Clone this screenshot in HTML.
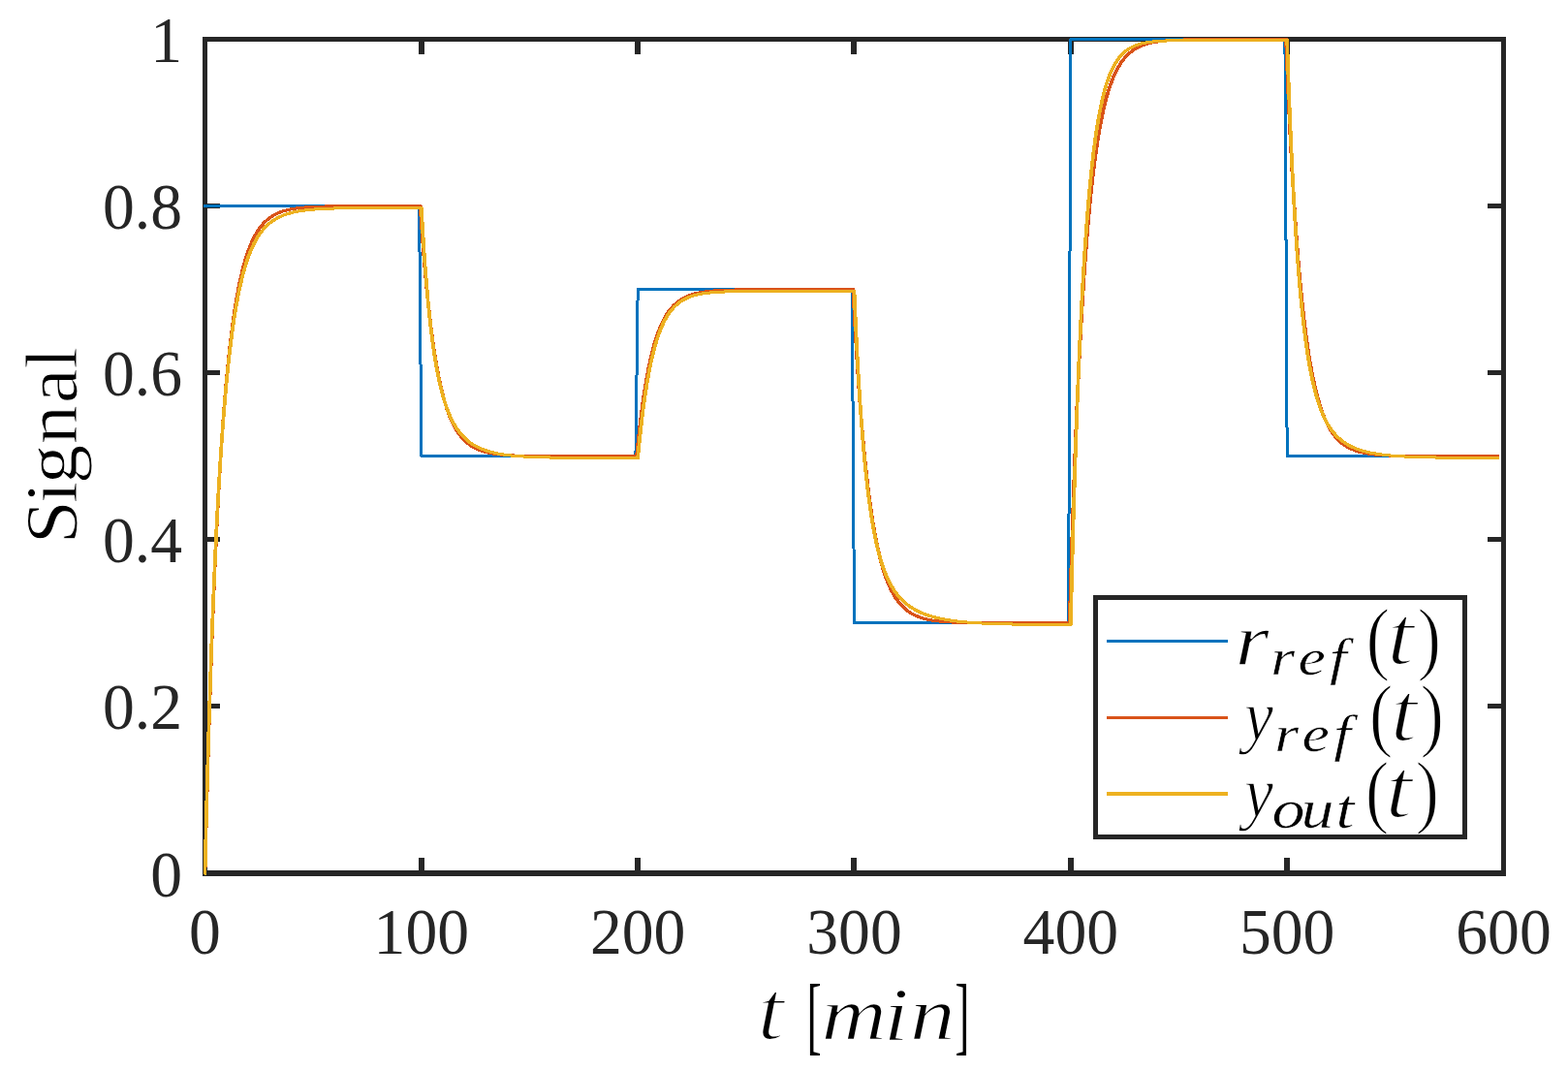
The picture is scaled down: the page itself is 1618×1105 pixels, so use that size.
<!DOCTYPE html>
<html lang="en"><head><meta charset="utf-8"><title>Signal tracking plot</title>
<style>
html,body{margin:0;padding:0;background:#fff;}
body{width:1618px;height:1105px;overflow:hidden;}
svg{display:block;}
.tk{font-family:"Liberation Serif","DejaVu Serif",serif;font-size:68px;fill:#262626;}
.lb{font-family:"Liberation Serif","DejaVu Serif",serif;fill:#000;}
.it{font-style:italic;}
</style></head><body>
<svg width="1618" height="1105" viewBox="0 0 1618 1105">
<rect x="0" y="0" width="1618" height="1105" fill="#fff"/>
<g id="axes" fill="#262626" shape-rendering="crispEdges"><rect x="209" y="38" width="1345" height="5"/><rect x="209" y="898" width="1345" height="6"/><rect x="209" y="38" width="5" height="866"/><rect x="1549" y="38" width="5" height="866"/><rect x="432" y="885" width="6" height="14"/><rect x="432" y="42" width="6" height="14"/><rect x="655" y="885" width="6" height="14"/><rect x="655" y="42" width="6" height="14"/><rect x="878" y="885" width="6" height="14"/><rect x="878" y="42" width="6" height="14"/><rect x="1102" y="885" width="6" height="14"/><rect x="1102" y="42" width="6" height="14"/><rect x="1325" y="885" width="6" height="14"/><rect x="1325" y="42" width="6" height="14"/><rect x="213" y="726" width="14" height="5"/><rect x="1535" y="726" width="15" height="5"/><rect x="213" y="554" width="14" height="5"/><rect x="1535" y="554" width="15" height="5"/><rect x="213" y="382" width="14" height="5"/><rect x="1535" y="382" width="15" height="5"/><rect x="213" y="210" width="14" height="5"/><rect x="1535" y="210" width="15" height="5"/></g>
<g id="curves" fill="none" stroke-width="3" stroke-linejoin="round" stroke-linecap="square" shape-rendering="crispEdges">
<path id="c-rref" stroke="#0072BD" d="M211.50,212.60 L432.60,212.60 L434.83,470.75 L655.93,470.75 L658.17,298.65 L879.27,298.65 L881.50,642.85 L1102.60,642.85 L1104.83,40.50 L1325.93,40.50 L1328.17,470.75 L1545.02,470.75"/>
<g transform="translate(-0.35,0)">
<path id="c-yref" stroke="#D95319" d="M211.50,901.00 L212.06,878.19 L212.62,856.14 L213.18,834.82 L213.73,814.20 L214.29,794.27 L214.85,775.00 L215.41,756.37 L215.97,738.35 L216.53,720.93 L217.08,704.09 L217.64,687.81 L218.20,672.06 L218.76,656.84 L219.32,642.12 L219.88,627.89 L220.43,614.13 L220.99,600.83 L221.55,587.97 L222.11,575.53 L222.67,563.51 L223.22,551.88 L223.78,540.64 L224.34,529.77 L224.90,519.26 L225.46,509.10 L226.02,499.28 L226.57,489.78 L227.13,480.60 L227.69,471.72 L228.25,463.13 L228.81,454.83 L229.37,446.81 L229.93,439.05 L230.48,431.54 L231.04,424.29 L231.60,417.28 L232.16,410.50 L232.72,403.94 L233.28,397.60 L233.83,391.47 L234.39,385.54 L234.95,379.81 L235.51,374.27 L236.07,368.92 L236.62,363.74 L237.18,358.73 L237.74,353.89 L238.30,349.21 L238.86,344.68 L239.42,340.31 L239.97,336.08 L240.53,331.98 L241.09,328.03 L241.65,324.20 L242.21,320.51 L242.77,316.93 L243.32,313.48 L243.88,310.13 L244.44,306.90 L245.00,303.78 L245.56,300.76 L246.12,297.84 L246.68,295.01 L247.23,292.28 L247.79,289.64 L248.35,287.09 L248.91,284.62 L249.47,282.23 L250.03,279.93 L250.58,277.70 L251.14,275.54 L251.70,273.46 L252.26,271.44 L252.82,269.49 L253.38,267.60 L253.93,265.78 L254.49,264.02 L255.05,262.32 L255.61,260.67 L256.17,259.08 L256.73,257.54 L257.28,256.05 L257.84,254.61 L258.40,253.22 L258.96,251.87 L259.52,250.57 L260.07,249.31 L260.63,248.10 L261.19,246.92 L261.75,245.78 L262.31,244.68 L262.87,243.62 L263.43,242.59 L263.98,241.60 L264.54,240.64 L265.10,239.71 L265.66,238.81 L266.22,237.94 L266.77,237.10 L267.33,236.29 L267.89,235.51 L268.45,234.75 L269.01,234.01 L269.57,233.30 L270.12,232.62 L270.68,231.95 L271.24,231.31 L271.80,230.69 L272.36,230.09 L272.92,229.51 L273.48,228.95 L274.03,228.41 L274.59,227.89 L275.15,227.38 L275.71,226.89 L276.27,226.42 L276.82,225.96 L277.38,225.52 L277.94,225.09 L278.50,224.68 L279.62,223.89 L280.73,223.15 L281.85,222.47 L282.97,221.82 L284.08,221.22 L285.20,220.66 L286.32,220.13 L287.43,219.64 L288.55,219.18 L289.67,218.76 L290.78,218.35 L292.46,217.80 L294.13,217.30 L295.81,216.85 L297.48,216.44 L299.72,215.96 L301.95,215.53 L304.74,215.08 L308.09,214.62 L312.00,214.20 L317.02,213.78 L324.28,213.36 L335.45,212.99 L346.62,212.80 L357.78,212.70 L368.95,212.65 L380.12,212.63 L391.28,212.61 L402.45,212.61 L413.62,212.60 L424.78,212.60 L433.72,212.60 L434.27,221.18 L434.83,229.47 L435.39,237.48 L435.95,245.23 L436.51,252.72 L437.07,259.97 L437.62,266.97 L438.18,273.74 L438.74,280.28 L439.30,286.61 L439.86,292.73 L440.42,298.64 L440.98,304.36 L441.53,309.89 L442.09,315.23 L442.65,320.40 L443.21,325.39 L443.77,330.22 L444.32,334.89 L444.88,339.40 L445.44,343.76 L446.00,347.98 L446.56,352.06 L447.12,356.00 L447.68,359.82 L448.23,363.50 L448.79,367.06 L449.35,370.51 L449.91,373.84 L450.47,377.06 L451.02,380.17 L451.58,383.18 L452.14,386.09 L452.70,388.90 L453.26,391.62 L453.82,394.25 L454.38,396.79 L454.93,399.25 L455.49,401.62 L456.05,403.92 L456.61,406.14 L457.17,408.28 L457.73,410.36 L458.28,412.37 L458.84,414.31 L459.40,416.18 L459.96,417.99 L460.52,419.75 L461.07,421.44 L461.63,423.08 L462.19,424.66 L462.75,426.19 L463.31,427.67 L463.87,429.10 L464.43,430.49 L464.98,431.82 L465.54,433.12 L466.10,434.37 L466.66,435.58 L467.22,436.74 L467.77,437.87 L468.33,438.97 L468.89,440.02 L469.45,441.04 L470.01,442.03 L470.57,442.98 L471.12,443.91 L471.68,444.80 L472.24,445.66 L472.80,446.49 L473.36,447.30 L473.92,448.08 L474.48,448.83 L475.03,449.56 L475.59,450.26 L476.15,450.94 L476.71,451.60 L477.27,452.24 L477.82,452.85 L478.38,453.45 L478.94,454.02 L479.50,454.58 L480.06,455.12 L480.62,455.63 L481.18,456.14 L481.73,456.62 L482.29,457.09 L482.85,457.55 L483.41,457.98 L483.97,458.41 L484.52,458.82 L485.64,459.60 L486.76,460.33 L487.88,461.01 L488.99,461.64 L490.11,462.24 L491.23,462.79 L492.34,463.31 L493.46,463.80 L494.57,464.25 L495.69,464.68 L497.37,465.26 L499.04,465.79 L500.72,466.27 L502.39,466.70 L504.62,467.21 L506.86,467.66 L509.65,468.14 L512.44,468.55 L515.79,468.95 L520.26,469.38 L526.40,469.80 L535.89,470.22 L547.06,470.48 L558.23,470.61 L569.39,470.68 L580.56,470.71 L591.73,470.73 L602.89,470.74 L614.06,470.75 L625.23,470.75 L636.39,470.75 L647.56,470.75 L657.05,470.75 L657.61,464.96 L658.17,459.36 L658.73,453.95 L659.28,448.72 L659.84,443.67 L660.40,438.78 L660.96,434.07 L661.52,429.51 L662.08,425.10 L662.63,420.84 L663.19,416.73 L663.75,412.75 L664.31,408.91 L664.87,405.20 L665.42,401.61 L665.98,398.15 L666.54,394.80 L667.10,391.56 L667.66,388.43 L668.22,385.41 L668.77,382.49 L669.33,379.67 L669.89,376.94 L670.45,374.30 L671.01,371.76 L671.57,369.29 L672.12,366.92 L672.68,364.62 L673.24,362.40 L673.80,360.25 L674.36,358.18 L674.92,356.17 L675.48,354.24 L676.03,352.36 L676.59,350.56 L677.15,348.81 L677.71,347.12 L678.27,345.49 L678.83,343.91 L679.38,342.39 L679.94,340.92 L680.50,339.49 L681.06,338.12 L681.62,336.79 L682.17,335.50 L682.73,334.26 L683.29,333.06 L683.85,331.91 L684.41,330.79 L684.97,329.70 L685.52,328.66 L686.08,327.65 L686.64,326.67 L687.20,325.73 L687.76,324.82 L688.32,323.94 L688.88,323.09 L689.43,322.26 L689.99,321.47 L690.55,320.70 L691.11,319.96 L691.67,319.24 L692.23,318.55 L692.78,317.88 L693.34,317.23 L693.90,316.60 L694.46,316.00 L695.02,315.42 L695.58,314.85 L696.13,314.31 L696.69,313.78 L697.25,313.27 L697.81,312.78 L698.37,312.30 L698.92,311.84 L699.48,311.40 L700.04,310.97 L700.60,310.55 L701.16,310.15 L702.27,309.39 L703.39,308.68 L704.51,308.02 L705.62,307.40 L706.74,306.82 L707.86,306.28 L708.98,305.77 L710.09,305.30 L711.21,304.86 L712.33,304.45 L714.00,303.88 L715.67,303.37 L717.35,302.91 L719.02,302.49 L721.26,302.00 L723.49,301.57 L726.28,301.11 L729.63,300.66 L733.54,300.23 L738.57,299.81 L745.83,299.39 L756.99,299.02 L768.16,298.84 L779.33,298.75 L790.49,298.70 L801.66,298.67 L812.83,298.66 L823.99,298.66 L835.16,298.65 L846.33,298.65 L857.49,298.65 L868.66,298.65 L879.83,298.65 L880.38,298.65 L880.94,309.79 L881.50,320.57 L882.06,331.00 L882.62,341.09 L883.17,350.85 L883.73,360.30 L884.29,369.44 L884.85,378.29 L885.41,386.85 L885.97,395.14 L886.52,403.15 L887.08,410.91 L887.64,418.41 L888.20,425.68 L888.76,432.70 L889.32,439.50 L889.88,446.08 L890.43,452.45 L890.99,458.61 L891.55,464.57 L892.11,470.34 L892.67,475.93 L893.23,481.33 L893.78,486.55 L894.34,491.61 L894.90,496.51 L895.46,501.24 L896.02,505.82 L896.58,510.26 L897.13,514.55 L897.69,518.70 L898.25,522.72 L898.81,526.61 L899.37,530.37 L899.92,534.01 L900.48,537.53 L901.04,540.94 L901.60,544.24 L902.16,547.43 L902.72,550.51 L903.27,553.50 L903.83,556.39 L904.39,559.19 L904.95,561.90 L905.51,564.52 L906.07,567.05 L906.62,569.51 L907.18,571.88 L907.74,574.18 L908.30,576.40 L908.86,578.55 L909.42,580.63 L909.98,582.64 L910.53,584.59 L911.09,586.48 L911.65,588.30 L912.21,590.07 L912.77,591.77 L913.33,593.43 L913.88,595.03 L914.44,596.57 L915.00,598.07 L915.56,599.52 L916.12,600.92 L916.67,602.28 L917.23,603.59 L917.79,604.86 L918.35,606.09 L918.91,607.28 L919.47,608.43 L920.02,609.55 L920.58,610.62 L921.14,611.67 L921.70,612.68 L922.26,613.65 L922.82,614.60 L923.38,615.51 L923.93,616.40 L924.49,617.25 L925.05,618.08 L925.61,618.88 L926.17,619.66 L926.73,620.41 L927.28,621.13 L927.84,621.84 L928.40,622.52 L928.96,623.17 L929.52,623.81 L930.08,624.43 L930.63,625.02 L931.19,625.60 L931.75,626.16 L932.31,626.70 L932.87,627.22 L933.42,627.73 L933.98,628.22 L934.54,628.69 L935.10,629.15 L935.66,629.59 L936.22,630.02 L936.77,630.44 L937.33,630.84 L938.45,631.60 L939.57,632.32 L940.68,632.99 L941.80,633.62 L942.92,634.20 L944.03,634.76 L945.15,635.27 L946.27,635.75 L947.38,636.21 L948.50,636.63 L950.17,637.21 L951.85,637.74 L953.52,638.22 L955.20,638.66 L957.43,639.17 L959.67,639.63 L962.46,640.12 L965.25,640.53 L968.60,640.95 L973.07,641.39 L978.65,641.80 L987.02,642.21 L998.19,642.52 L1009.36,642.68 L1020.52,642.76 L1031.69,642.80 L1042.86,642.83 L1054.03,642.84 L1065.19,642.84 L1076.36,642.85 L1087.53,642.85 L1098.69,642.85 L1103.72,642.85 L1104.28,622.84 L1104.83,603.49 L1105.39,584.79 L1105.95,566.71 L1106.51,549.23 L1107.07,532.33 L1107.62,515.99 L1108.18,500.20 L1108.74,484.93 L1109.30,470.16 L1109.86,455.89 L1110.42,442.09 L1110.97,428.75 L1111.53,415.85 L1112.09,403.38 L1112.65,391.33 L1113.21,379.67 L1113.77,368.41 L1114.33,357.51 L1114.88,346.98 L1115.44,336.80 L1116.00,326.96 L1116.56,317.44 L1117.12,308.24 L1117.67,299.35 L1118.23,290.75 L1118.79,282.44 L1119.35,274.40 L1119.91,266.63 L1120.47,259.12 L1121.03,251.86 L1121.58,244.83 L1122.14,238.05 L1122.70,231.48 L1123.26,225.14 L1123.82,219.01 L1124.38,213.08 L1124.93,207.34 L1125.49,201.80 L1126.05,196.44 L1126.61,191.26 L1127.17,186.25 L1127.72,181.41 L1128.28,176.73 L1128.84,172.21 L1129.40,167.83 L1129.96,163.60 L1130.52,159.51 L1131.08,155.56 L1131.63,151.74 L1132.19,148.04 L1132.75,144.47 L1133.31,141.01 L1133.87,137.67 L1134.42,134.45 L1134.98,131.33 L1135.54,128.31 L1136.10,125.39 L1136.66,122.57 L1137.22,119.85 L1137.78,117.21 L1138.33,114.66 L1138.89,112.20 L1139.45,109.82 L1140.01,107.51 L1140.57,105.29 L1141.12,103.13 L1141.68,101.05 L1142.24,99.04 L1142.80,97.10 L1143.36,95.22 L1143.92,93.40 L1144.47,91.64 L1145.03,89.94 L1145.59,88.30 L1146.15,86.71 L1146.71,85.18 L1147.27,83.69 L1147.83,82.26 L1148.38,80.87 L1148.94,79.53 L1149.50,78.23 L1150.06,76.98 L1150.62,75.77 L1151.17,74.60 L1151.73,73.46 L1152.29,72.37 L1152.85,71.31 L1153.41,70.29 L1153.97,69.30 L1154.53,68.34 L1155.08,67.42 L1155.64,66.52 L1156.20,65.66 L1156.76,64.82 L1157.32,64.01 L1157.88,63.23 L1158.43,62.48 L1158.99,61.75 L1159.55,61.04 L1160.11,60.36 L1160.67,59.70 L1161.22,59.06 L1161.78,58.45 L1162.34,57.85 L1162.90,57.27 L1163.46,56.72 L1164.02,56.18 L1164.58,55.66 L1165.13,55.15 L1165.69,54.67 L1166.25,54.20 L1166.81,53.74 L1167.37,53.30 L1167.92,52.88 L1168.48,52.46 L1169.60,51.68 L1170.72,50.95 L1171.83,50.27 L1172.95,49.63 L1174.07,49.03 L1175.18,48.48 L1176.30,47.96 L1177.42,47.47 L1178.53,47.01 L1179.65,46.59 L1181.33,46.00 L1183.00,45.47 L1184.67,44.99 L1186.35,44.56 L1188.58,44.05 L1190.82,43.60 L1193.61,43.12 L1196.40,42.71 L1199.75,42.30 L1204.22,41.88 L1210.36,41.45 L1219.85,41.03 L1231.02,40.77 L1242.18,40.64 L1253.35,40.57 L1264.52,40.54 L1275.68,40.52 L1286.85,40.51 L1298.02,40.50 L1309.18,40.50 L1320.35,40.50 L1327.05,40.50 L1327.61,54.70 L1328.17,68.43 L1328.72,81.71 L1329.28,94.54 L1329.84,106.96 L1330.40,118.96 L1330.96,130.57 L1331.52,141.80 L1332.08,152.65 L1332.63,163.15 L1333.19,173.30 L1333.75,183.12 L1334.31,192.61 L1334.87,201.79 L1335.42,210.66 L1335.98,219.25 L1336.54,227.55 L1337.10,235.57 L1337.66,243.33 L1338.22,250.84 L1338.78,258.10 L1339.33,265.11 L1339.89,271.90 L1340.45,278.46 L1341.01,284.81 L1341.57,290.94 L1342.12,296.88 L1342.68,302.62 L1343.24,308.16 L1343.80,313.53 L1344.36,318.72 L1344.92,323.73 L1345.47,328.59 L1346.03,333.28 L1346.59,337.81 L1347.15,342.20 L1347.71,346.44 L1348.27,350.55 L1348.83,354.51 L1349.38,358.35 L1349.94,362.06 L1350.50,365.64 L1351.06,369.11 L1351.62,372.47 L1352.17,375.71 L1352.73,378.85 L1353.29,381.88 L1353.85,384.81 L1354.41,387.65 L1354.97,390.39 L1355.53,393.04 L1356.08,395.61 L1356.64,398.09 L1357.20,400.48 L1357.76,402.80 L1358.32,405.05 L1358.88,407.21 L1359.43,409.31 L1359.99,411.34 L1360.55,413.30 L1361.11,415.19 L1361.67,417.03 L1362.22,418.80 L1362.78,420.51 L1363.34,422.17 L1363.90,423.78 L1364.46,425.33 L1365.02,426.82 L1365.58,428.27 L1366.13,429.68 L1366.69,431.03 L1367.25,432.34 L1367.81,433.61 L1368.37,434.84 L1368.92,436.02 L1369.48,437.17 L1370.04,438.27 L1370.60,439.35 L1371.16,440.38 L1371.72,441.39 L1372.28,442.35 L1372.83,443.29 L1373.39,444.20 L1373.95,445.07 L1374.51,445.92 L1375.07,446.74 L1375.62,447.53 L1376.18,448.30 L1376.74,449.04 L1377.30,449.76 L1377.86,450.45 L1378.42,451.12 L1378.97,451.77 L1379.53,452.39 L1380.09,453.00 L1380.65,453.58 L1381.21,454.15 L1381.77,454.70 L1382.33,455.23 L1382.88,455.74 L1383.44,456.24 L1384.00,456.72 L1384.56,457.18 L1385.12,457.63 L1385.67,458.06 L1386.23,458.48 L1386.79,458.88 L1387.91,459.65 L1389.03,460.37 L1390.14,461.05 L1391.26,461.68 L1392.38,462.27 L1393.49,462.82 L1394.61,463.33 L1395.72,463.81 L1396.84,464.26 L1397.96,464.68 L1399.63,465.27 L1401.31,465.79 L1402.98,466.27 L1404.66,466.70 L1406.89,467.20 L1409.12,467.65 L1411.92,468.13 L1414.71,468.53 L1418.06,468.94 L1422.53,469.36 L1428.67,469.79 L1438.16,470.21 L1449.33,470.47 L1460.49,470.61 L1471.66,470.68 L1482.83,470.71 L1493.99,470.73 L1505.16,470.74 L1516.33,470.75 L1527.49,470.75 L1538.66,470.75 L1544.80,470.75"/>
<path stroke="#D95319" transform="translate(0.7,0)" d="M211.50,901.00 L212.06,878.19 L212.62,856.14 L213.18,834.82 L213.73,814.20 L214.29,794.27 L214.85,775.00 L215.41,756.37 L215.97,738.35 L216.53,720.93 L217.08,704.09 L217.64,687.81 L218.20,672.06 L218.76,656.84 L219.32,642.12 L219.88,627.89 L220.43,614.13 L220.99,600.83 L221.55,587.97 L222.11,575.53 L222.67,563.51 L223.22,551.88 L223.78,540.64 L224.34,529.77 L224.90,519.26 L225.46,509.10 L226.02,499.28 L226.57,489.78 L227.13,480.60 L227.69,471.72 L228.25,463.13 L228.81,454.83 L229.37,446.81 L229.93,439.05 L230.48,431.54 L231.04,424.29 L231.60,417.28 L232.16,410.50 L232.72,403.94 L233.28,397.60 L233.83,391.47 L234.39,385.54 L234.95,379.81 L235.51,374.27 L236.07,368.92 L236.62,363.74 L237.18,358.73 L237.74,353.89 L238.30,349.21 L238.86,344.68 L239.42,340.31 L239.97,336.08 L240.53,331.98 L241.09,328.03 L241.65,324.20 L242.21,320.51 L242.77,316.93 L243.32,313.48 L243.88,310.13 L244.44,306.90 L245.00,303.78 L245.56,300.76 L246.12,297.84 L246.68,295.01 L247.23,292.28 L247.79,289.64 L248.35,287.09 L248.91,284.62 L249.47,282.23 L250.03,279.93 L250.58,277.70 L251.14,275.54 L251.70,273.46 L252.26,271.44 L252.82,269.49 L253.38,267.60 L253.93,265.78 L254.49,264.02 L255.05,262.32 L255.61,260.67 L256.17,259.08 L256.73,257.54 L257.28,256.05 L257.84,254.61 L258.40,253.22 L258.96,251.87 L259.52,250.57 L260.07,249.31 L260.63,248.10 L261.19,246.92 L261.75,245.78 L262.31,244.68 L262.87,243.62 L263.43,242.59 L263.98,241.60 L264.54,240.64 L265.10,239.71 L265.66,238.81 L266.22,237.94 L266.77,237.10 L267.33,236.29 L267.89,235.51 L268.45,234.75 L269.01,234.01 L269.57,233.30 L270.12,232.62 L270.68,231.95 L271.24,231.31 L271.80,230.69 L272.36,230.09 L272.92,229.51 L273.48,228.95 L274.03,228.41 L274.59,227.89 L275.15,227.38 L275.71,226.89 L276.27,226.42 L276.82,225.96 L277.38,225.52 L277.94,225.09 L278.50,224.68 L279.62,223.89 L280.73,223.15 L281.85,222.47 L282.97,221.82 L284.08,221.22 L285.20,220.66 L286.32,220.13 L287.43,219.64 L288.55,219.18 L289.67,218.76 L290.78,218.35 L292.46,217.80 L294.13,217.30 L295.81,216.85 L297.48,216.44 L299.72,215.96 L301.95,215.53 L304.74,215.08 L308.09,214.62 L312.00,214.20 L317.02,213.78 L324.28,213.36 L335.45,212.99 L346.62,212.80 L357.78,212.70 L368.95,212.65 L380.12,212.63 L391.28,212.61 L402.45,212.61 L413.62,212.60 L424.78,212.60 L433.72,212.60 L434.27,221.18 L434.83,229.47 L435.39,237.48 L435.95,245.23 L436.51,252.72 L437.07,259.97 L437.62,266.97 L438.18,273.74 L438.74,280.28 L439.30,286.61 L439.86,292.73 L440.42,298.64 L440.98,304.36 L441.53,309.89 L442.09,315.23 L442.65,320.40 L443.21,325.39 L443.77,330.22 L444.32,334.89 L444.88,339.40 L445.44,343.76 L446.00,347.98 L446.56,352.06 L447.12,356.00 L447.68,359.82 L448.23,363.50 L448.79,367.06 L449.35,370.51 L449.91,373.84 L450.47,377.06 L451.02,380.17 L451.58,383.18 L452.14,386.09 L452.70,388.90 L453.26,391.62 L453.82,394.25 L454.38,396.79 L454.93,399.25 L455.49,401.62 L456.05,403.92 L456.61,406.14 L457.17,408.28 L457.73,410.36 L458.28,412.37 L458.84,414.31 L459.40,416.18 L459.96,417.99 L460.52,419.75 L461.07,421.44 L461.63,423.08 L462.19,424.66 L462.75,426.19 L463.31,427.67 L463.87,429.10 L464.43,430.49 L464.98,431.82 L465.54,433.12 L466.10,434.37 L466.66,435.58 L467.22,436.74 L467.77,437.87 L468.33,438.97 L468.89,440.02 L469.45,441.04 L470.01,442.03 L470.57,442.98 L471.12,443.91 L471.68,444.80 L472.24,445.66 L472.80,446.49 L473.36,447.30 L473.92,448.08 L474.48,448.83 L475.03,449.56 L475.59,450.26 L476.15,450.94 L476.71,451.60 L477.27,452.24 L477.82,452.85 L478.38,453.45 L478.94,454.02 L479.50,454.58 L480.06,455.12 L480.62,455.63 L481.18,456.14 L481.73,456.62 L482.29,457.09 L482.85,457.55 L483.41,457.98 L483.97,458.41 L484.52,458.82 L485.64,459.60 L486.76,460.33 L487.88,461.01 L488.99,461.64 L490.11,462.24 L491.23,462.79 L492.34,463.31 L493.46,463.80 L494.57,464.25 L495.69,464.68 L497.37,465.26 L499.04,465.79 L500.72,466.27 L502.39,466.70 L504.62,467.21 L506.86,467.66 L509.65,468.14 L512.44,468.55 L515.79,468.95 L520.26,469.38 L526.40,469.80 L535.89,470.22 L547.06,470.48 L558.23,470.61 L569.39,470.68 L580.56,470.71 L591.73,470.73 L602.89,470.74 L614.06,470.75 L625.23,470.75 L636.39,470.75 L647.56,470.75 L657.05,470.75 L657.61,464.96 L658.17,459.36 L658.73,453.95 L659.28,448.72 L659.84,443.67 L660.40,438.78 L660.96,434.07 L661.52,429.51 L662.08,425.10 L662.63,420.84 L663.19,416.73 L663.75,412.75 L664.31,408.91 L664.87,405.20 L665.42,401.61 L665.98,398.15 L666.54,394.80 L667.10,391.56 L667.66,388.43 L668.22,385.41 L668.77,382.49 L669.33,379.67 L669.89,376.94 L670.45,374.30 L671.01,371.76 L671.57,369.29 L672.12,366.92 L672.68,364.62 L673.24,362.40 L673.80,360.25 L674.36,358.18 L674.92,356.17 L675.48,354.24 L676.03,352.36 L676.59,350.56 L677.15,348.81 L677.71,347.12 L678.27,345.49 L678.83,343.91 L679.38,342.39 L679.94,340.92 L680.50,339.49 L681.06,338.12 L681.62,336.79 L682.17,335.50 L682.73,334.26 L683.29,333.06 L683.85,331.91 L684.41,330.79 L684.97,329.70 L685.52,328.66 L686.08,327.65 L686.64,326.67 L687.20,325.73 L687.76,324.82 L688.32,323.94 L688.88,323.09 L689.43,322.26 L689.99,321.47 L690.55,320.70 L691.11,319.96 L691.67,319.24 L692.23,318.55 L692.78,317.88 L693.34,317.23 L693.90,316.60 L694.46,316.00 L695.02,315.42 L695.58,314.85 L696.13,314.31 L696.69,313.78 L697.25,313.27 L697.81,312.78 L698.37,312.30 L698.92,311.84 L699.48,311.40 L700.04,310.97 L700.60,310.55 L701.16,310.15 L702.27,309.39 L703.39,308.68 L704.51,308.02 L705.62,307.40 L706.74,306.82 L707.86,306.28 L708.98,305.77 L710.09,305.30 L711.21,304.86 L712.33,304.45 L714.00,303.88 L715.67,303.37 L717.35,302.91 L719.02,302.49 L721.26,302.00 L723.49,301.57 L726.28,301.11 L729.63,300.66 L733.54,300.23 L738.57,299.81 L745.83,299.39 L756.99,299.02 L768.16,298.84 L779.33,298.75 L790.49,298.70 L801.66,298.67 L812.83,298.66 L823.99,298.66 L835.16,298.65 L846.33,298.65 L857.49,298.65 L868.66,298.65 L879.83,298.65 L880.38,298.65 L880.94,309.79 L881.50,320.57 L882.06,331.00 L882.62,341.09 L883.17,350.85 L883.73,360.30 L884.29,369.44 L884.85,378.29 L885.41,386.85 L885.97,395.14 L886.52,403.15 L887.08,410.91 L887.64,418.41 L888.20,425.68 L888.76,432.70 L889.32,439.50 L889.88,446.08 L890.43,452.45 L890.99,458.61 L891.55,464.57 L892.11,470.34 L892.67,475.93 L893.23,481.33 L893.78,486.55 L894.34,491.61 L894.90,496.51 L895.46,501.24 L896.02,505.82 L896.58,510.26 L897.13,514.55 L897.69,518.70 L898.25,522.72 L898.81,526.61 L899.37,530.37 L899.92,534.01 L900.48,537.53 L901.04,540.94 L901.60,544.24 L902.16,547.43 L902.72,550.51 L903.27,553.50 L903.83,556.39 L904.39,559.19 L904.95,561.90 L905.51,564.52 L906.07,567.05 L906.62,569.51 L907.18,571.88 L907.74,574.18 L908.30,576.40 L908.86,578.55 L909.42,580.63 L909.98,582.64 L910.53,584.59 L911.09,586.48 L911.65,588.30 L912.21,590.07 L912.77,591.77 L913.33,593.43 L913.88,595.03 L914.44,596.57 L915.00,598.07 L915.56,599.52 L916.12,600.92 L916.67,602.28 L917.23,603.59 L917.79,604.86 L918.35,606.09 L918.91,607.28 L919.47,608.43 L920.02,609.55 L920.58,610.62 L921.14,611.67 L921.70,612.68 L922.26,613.65 L922.82,614.60 L923.38,615.51 L923.93,616.40 L924.49,617.25 L925.05,618.08 L925.61,618.88 L926.17,619.66 L926.73,620.41 L927.28,621.13 L927.84,621.84 L928.40,622.52 L928.96,623.17 L929.52,623.81 L930.08,624.43 L930.63,625.02 L931.19,625.60 L931.75,626.16 L932.31,626.70 L932.87,627.22 L933.42,627.73 L933.98,628.22 L934.54,628.69 L935.10,629.15 L935.66,629.59 L936.22,630.02 L936.77,630.44 L937.33,630.84 L938.45,631.60 L939.57,632.32 L940.68,632.99 L941.80,633.62 L942.92,634.20 L944.03,634.76 L945.15,635.27 L946.27,635.75 L947.38,636.21 L948.50,636.63 L950.17,637.21 L951.85,637.74 L953.52,638.22 L955.20,638.66 L957.43,639.17 L959.67,639.63 L962.46,640.12 L965.25,640.53 L968.60,640.95 L973.07,641.39 L978.65,641.80 L987.02,642.21 L998.19,642.52 L1009.36,642.68 L1020.52,642.76 L1031.69,642.80 L1042.86,642.83 L1054.03,642.84 L1065.19,642.84 L1076.36,642.85 L1087.53,642.85 L1098.69,642.85 L1103.72,642.85 L1104.28,622.84 L1104.83,603.49 L1105.39,584.79 L1105.95,566.71 L1106.51,549.23 L1107.07,532.33 L1107.62,515.99 L1108.18,500.20 L1108.74,484.93 L1109.30,470.16 L1109.86,455.89 L1110.42,442.09 L1110.97,428.75 L1111.53,415.85 L1112.09,403.38 L1112.65,391.33 L1113.21,379.67 L1113.77,368.41 L1114.33,357.51 L1114.88,346.98 L1115.44,336.80 L1116.00,326.96 L1116.56,317.44 L1117.12,308.24 L1117.67,299.35 L1118.23,290.75 L1118.79,282.44 L1119.35,274.40 L1119.91,266.63 L1120.47,259.12 L1121.03,251.86 L1121.58,244.83 L1122.14,238.05 L1122.70,231.48 L1123.26,225.14 L1123.82,219.01 L1124.38,213.08 L1124.93,207.34 L1125.49,201.80 L1126.05,196.44 L1126.61,191.26 L1127.17,186.25 L1127.72,181.41 L1128.28,176.73 L1128.84,172.21 L1129.40,167.83 L1129.96,163.60 L1130.52,159.51 L1131.08,155.56 L1131.63,151.74 L1132.19,148.04 L1132.75,144.47 L1133.31,141.01 L1133.87,137.67 L1134.42,134.45 L1134.98,131.33 L1135.54,128.31 L1136.10,125.39 L1136.66,122.57 L1137.22,119.85 L1137.78,117.21 L1138.33,114.66 L1138.89,112.20 L1139.45,109.82 L1140.01,107.51 L1140.57,105.29 L1141.12,103.13 L1141.68,101.05 L1142.24,99.04 L1142.80,97.10 L1143.36,95.22 L1143.92,93.40 L1144.47,91.64 L1145.03,89.94 L1145.59,88.30 L1146.15,86.71 L1146.71,85.18 L1147.27,83.69 L1147.83,82.26 L1148.38,80.87 L1148.94,79.53 L1149.50,78.23 L1150.06,76.98 L1150.62,75.77 L1151.17,74.60 L1151.73,73.46 L1152.29,72.37 L1152.85,71.31 L1153.41,70.29 L1153.97,69.30 L1154.53,68.34 L1155.08,67.42 L1155.64,66.52 L1156.20,65.66 L1156.76,64.82 L1157.32,64.01 L1157.88,63.23 L1158.43,62.48 L1158.99,61.75 L1159.55,61.04 L1160.11,60.36 L1160.67,59.70 L1161.22,59.06 L1161.78,58.45 L1162.34,57.85 L1162.90,57.27 L1163.46,56.72 L1164.02,56.18 L1164.58,55.66 L1165.13,55.15 L1165.69,54.67 L1166.25,54.20 L1166.81,53.74 L1167.37,53.30 L1167.92,52.88 L1168.48,52.46 L1169.60,51.68 L1170.72,50.95 L1171.83,50.27 L1172.95,49.63 L1174.07,49.03 L1175.18,48.48 L1176.30,47.96 L1177.42,47.47 L1178.53,47.01 L1179.65,46.59 L1181.33,46.00 L1183.00,45.47 L1184.67,44.99 L1186.35,44.56 L1188.58,44.05 L1190.82,43.60 L1193.61,43.12 L1196.40,42.71 L1199.75,42.30 L1204.22,41.88 L1210.36,41.45 L1219.85,41.03 L1231.02,40.77 L1242.18,40.64 L1253.35,40.57 L1264.52,40.54 L1275.68,40.52 L1286.85,40.51 L1298.02,40.50 L1309.18,40.50 L1320.35,40.50 L1327.05,40.50 L1327.61,54.70 L1328.17,68.43 L1328.72,81.71 L1329.28,94.54 L1329.84,106.96 L1330.40,118.96 L1330.96,130.57 L1331.52,141.80 L1332.08,152.65 L1332.63,163.15 L1333.19,173.30 L1333.75,183.12 L1334.31,192.61 L1334.87,201.79 L1335.42,210.66 L1335.98,219.25 L1336.54,227.55 L1337.10,235.57 L1337.66,243.33 L1338.22,250.84 L1338.78,258.10 L1339.33,265.11 L1339.89,271.90 L1340.45,278.46 L1341.01,284.81 L1341.57,290.94 L1342.12,296.88 L1342.68,302.62 L1343.24,308.16 L1343.80,313.53 L1344.36,318.72 L1344.92,323.73 L1345.47,328.59 L1346.03,333.28 L1346.59,337.81 L1347.15,342.20 L1347.71,346.44 L1348.27,350.55 L1348.83,354.51 L1349.38,358.35 L1349.94,362.06 L1350.50,365.64 L1351.06,369.11 L1351.62,372.47 L1352.17,375.71 L1352.73,378.85 L1353.29,381.88 L1353.85,384.81 L1354.41,387.65 L1354.97,390.39 L1355.53,393.04 L1356.08,395.61 L1356.64,398.09 L1357.20,400.48 L1357.76,402.80 L1358.32,405.05 L1358.88,407.21 L1359.43,409.31 L1359.99,411.34 L1360.55,413.30 L1361.11,415.19 L1361.67,417.03 L1362.22,418.80 L1362.78,420.51 L1363.34,422.17 L1363.90,423.78 L1364.46,425.33 L1365.02,426.82 L1365.58,428.27 L1366.13,429.68 L1366.69,431.03 L1367.25,432.34 L1367.81,433.61 L1368.37,434.84 L1368.92,436.02 L1369.48,437.17 L1370.04,438.27 L1370.60,439.35 L1371.16,440.38 L1371.72,441.39 L1372.28,442.35 L1372.83,443.29 L1373.39,444.20 L1373.95,445.07 L1374.51,445.92 L1375.07,446.74 L1375.62,447.53 L1376.18,448.30 L1376.74,449.04 L1377.30,449.76 L1377.86,450.45 L1378.42,451.12 L1378.97,451.77 L1379.53,452.39 L1380.09,453.00 L1380.65,453.58 L1381.21,454.15 L1381.77,454.70 L1382.33,455.23 L1382.88,455.74 L1383.44,456.24 L1384.00,456.72 L1384.56,457.18 L1385.12,457.63 L1385.67,458.06 L1386.23,458.48 L1386.79,458.88 L1387.91,459.65 L1389.03,460.37 L1390.14,461.05 L1391.26,461.68 L1392.38,462.27 L1393.49,462.82 L1394.61,463.33 L1395.72,463.81 L1396.84,464.26 L1397.96,464.68 L1399.63,465.27 L1401.31,465.79 L1402.98,466.27 L1404.66,466.70 L1406.89,467.20 L1409.12,467.65 L1411.92,468.13 L1414.71,468.53 L1418.06,468.94 L1422.53,469.36 L1428.67,469.79 L1438.16,470.21 L1449.33,470.47 L1460.49,470.61 L1471.66,470.68 L1482.83,470.71 L1493.99,470.73 L1505.16,470.74 L1516.33,470.75 L1527.49,470.75 L1538.66,470.75 L1544.80,470.75"/>
<path id="c-yout" stroke="#EDB120" d="M211.50,901.00 L212.06,877.61 L212.62,855.04 L213.18,833.28 L213.73,812.28 L214.29,792.03 L214.85,772.49 L215.41,753.64 L215.97,735.46 L216.53,717.91 L217.08,700.99 L217.64,684.65 L218.20,668.89 L218.76,653.68 L219.32,639.00 L219.88,624.84 L220.43,611.16 L220.99,597.97 L221.55,585.23 L222.11,572.94 L222.67,561.07 L223.22,549.61 L223.78,538.55 L224.34,527.87 L224.90,517.56 L225.46,507.61 L226.02,498.00 L226.57,488.72 L227.13,479.75 L227.69,471.10 L228.25,462.74 L228.81,454.66 L229.37,446.86 L229.93,439.33 L230.48,432.05 L231.04,425.02 L231.60,418.23 L232.16,411.67 L232.72,405.33 L233.28,399.20 L233.83,393.28 L234.39,387.56 L234.95,382.03 L235.51,376.69 L236.07,371.53 L236.62,366.54 L237.18,361.71 L237.74,357.05 L238.30,352.54 L238.86,348.19 L239.42,343.97 L239.97,339.90 L240.53,335.96 L241.09,332.15 L241.65,328.47 L242.21,324.91 L242.77,321.46 L243.32,318.13 L243.88,314.91 L244.44,311.79 L245.00,308.77 L245.56,305.86 L246.12,303.04 L246.68,300.31 L247.23,297.66 L247.79,295.11 L248.35,292.63 L248.91,290.24 L249.47,287.92 L250.03,285.68 L250.58,283.51 L251.14,281.41 L251.70,279.38 L252.26,277.41 L252.82,275.51 L253.38,273.66 L253.93,271.87 L254.49,270.14 L255.05,268.47 L255.61,266.85 L256.17,265.28 L256.73,263.76 L257.28,262.28 L257.84,260.86 L258.40,259.48 L258.96,258.14 L259.52,256.84 L260.07,255.58 L260.63,254.37 L261.19,253.19 L261.75,252.04 L262.31,250.94 L262.87,249.86 L263.43,248.82 L263.98,247.81 L264.54,246.84 L265.10,245.89 L265.66,244.97 L266.22,244.08 L266.77,243.22 L267.33,242.38 L267.89,241.57 L268.45,240.79 L269.01,240.02 L269.57,239.29 L270.12,238.57 L270.68,237.87 L271.24,237.20 L271.80,236.54 L272.36,235.91 L272.92,235.30 L273.48,234.70 L274.03,234.12 L274.59,233.56 L275.15,233.01 L275.71,232.48 L276.27,231.97 L276.82,231.47 L277.38,230.99 L277.94,230.52 L278.50,230.07 L279.06,229.62 L279.62,229.19 L280.18,228.78 L280.73,228.37 L281.85,227.60 L282.97,226.87 L284.08,226.19 L285.20,225.54 L286.32,224.93 L287.43,224.35 L288.55,223.81 L289.67,223.30 L290.78,222.81 L291.90,222.36 L293.02,221.93 L294.13,221.52 L295.81,220.95 L297.48,220.43 L299.16,219.95 L300.83,219.51 L302.51,219.10 L304.74,218.61 L306.98,218.18 L309.77,217.69 L312.56,217.27 L315.91,216.84 L319.82,216.41 L324.84,215.97 L330.98,215.56 L339.92,215.14 L351.08,214.81 L362.25,214.62 L373.42,214.50 L384.58,214.43 L395.75,214.39 L406.92,214.36 L418.08,214.34 L429.25,214.34 L434.83,214.33 L435.39,224.33 L435.95,233.89 L436.51,243.02 L437.07,251.75 L437.62,260.10 L438.18,268.08 L438.74,275.72 L439.30,283.02 L439.86,290.01 L440.42,296.70 L440.98,303.11 L441.53,309.24 L442.09,315.11 L442.65,320.74 L443.21,326.13 L443.77,331.30 L444.32,336.25 L444.88,341.00 L445.44,345.56 L446.00,349.93 L446.56,354.12 L447.12,358.15 L447.68,362.01 L448.23,365.72 L448.79,369.28 L449.35,372.70 L449.91,375.99 L450.47,379.15 L451.02,382.19 L451.58,385.11 L452.14,387.93 L452.70,390.63 L453.26,393.23 L453.82,395.74 L454.38,398.15 L454.93,400.47 L455.49,402.71 L456.05,404.86 L456.61,406.94 L457.17,408.94 L457.73,410.87 L458.28,412.73 L458.84,414.52 L459.40,416.26 L459.96,417.93 L460.52,419.54 L461.07,421.10 L461.63,422.60 L462.19,424.05 L462.75,425.46 L463.31,426.81 L463.87,428.12 L464.43,429.39 L464.98,430.62 L465.54,431.80 L466.10,432.95 L466.66,434.06 L467.22,435.13 L467.77,436.17 L468.33,437.17 L468.89,438.15 L469.45,439.09 L470.01,440.00 L470.57,440.89 L471.12,441.75 L471.68,442.58 L472.24,443.38 L472.80,444.16 L473.36,444.92 L473.92,445.66 L474.48,446.37 L475.03,447.06 L475.59,447.73 L476.15,448.38 L476.71,449.01 L477.27,449.63 L477.82,450.22 L478.38,450.80 L478.94,451.36 L479.50,451.91 L480.06,452.44 L480.62,452.95 L481.18,453.45 L481.73,453.94 L482.29,454.41 L482.85,454.87 L483.41,455.32 L483.97,455.76 L484.52,456.18 L485.08,456.59 L486.20,457.38 L487.32,458.12 L488.43,458.83 L489.55,459.50 L490.67,460.14 L491.78,460.74 L492.90,461.31 L494.02,461.85 L495.13,462.36 L496.25,462.85 L497.37,463.31 L498.48,463.75 L499.60,464.17 L501.27,464.76 L502.95,465.30 L504.62,465.80 L506.30,466.27 L507.98,466.71 L509.65,467.11 L511.88,467.60 L514.12,468.05 L516.35,468.45 L519.14,468.91 L521.93,469.31 L525.28,469.73 L529.19,470.15 L533.66,470.55 L539.24,470.96 L546.50,471.36 L557.11,471.76 L568.27,472.03 L579.44,472.20 L590.61,472.30 L601.77,472.36 L612.94,472.40 L624.11,472.43 L635.27,472.45 L646.44,472.45 L657.61,472.46 L658.17,472.46 L658.73,466.55 L659.28,460.84 L659.84,455.32 L660.40,450.00 L660.96,444.86 L661.52,439.89 L662.08,435.10 L662.63,430.47 L663.19,426.00 L663.75,421.68 L664.31,417.51 L664.87,413.49 L665.42,409.60 L665.98,405.85 L666.54,402.23 L667.10,398.73 L667.66,395.35 L668.22,392.08 L668.77,388.93 L669.33,385.89 L669.89,382.95 L670.45,380.11 L671.01,377.37 L671.57,374.73 L672.12,372.17 L672.68,369.70 L673.24,367.32 L673.80,365.02 L674.36,362.80 L674.92,360.66 L675.48,358.58 L676.03,356.58 L676.59,354.65 L677.15,352.79 L677.71,350.99 L678.27,349.25 L678.83,347.57 L679.38,345.95 L679.94,344.38 L680.50,342.87 L681.06,341.41 L681.62,340.00 L682.17,338.64 L682.73,337.32 L683.29,336.05 L683.85,334.83 L684.41,333.64 L684.97,332.50 L685.52,331.39 L686.08,330.33 L686.64,329.30 L687.20,328.30 L687.76,327.34 L688.32,326.42 L688.88,325.52 L689.43,324.66 L689.99,323.82 L690.55,323.02 L691.11,322.24 L691.67,321.49 L692.23,320.76 L692.78,320.06 L693.34,319.39 L693.90,318.73 L694.46,318.10 L695.02,317.49 L695.58,316.90 L696.13,316.34 L696.69,315.79 L697.25,315.26 L697.81,314.75 L698.37,314.25 L698.92,313.78 L699.48,313.31 L700.04,312.87 L700.60,312.44 L701.16,312.03 L701.72,311.63 L702.83,310.87 L703.95,310.16 L705.07,309.50 L706.18,308.88 L707.30,308.30 L708.42,307.77 L709.53,307.27 L710.65,306.80 L711.77,306.37 L712.88,305.96 L714.56,305.41 L716.23,304.91 L717.91,304.45 L719.58,304.05 L721.82,303.57 L724.05,303.15 L726.84,302.70 L730.19,302.26 L734.10,301.85 L739.68,301.42 L747.50,301.01 L758.67,300.69 L769.83,300.53 L781.00,300.45 L792.17,300.41 L803.33,300.39 L814.50,300.38 L825.67,300.38 L836.83,300.37 L848.00,300.37 L859.17,300.37 L870.33,300.37 L881.50,300.37 L882.06,313.51 L882.62,326.09 L883.17,338.12 L883.73,349.63 L884.29,360.65 L884.85,371.20 L885.41,381.30 L885.97,390.96 L886.52,400.22 L887.08,409.09 L887.64,417.58 L888.20,425.72 L888.76,433.51 L889.32,440.98 L889.88,448.15 L890.43,455.01 L890.99,461.59 L891.55,467.90 L892.11,473.96 L892.67,479.76 L893.23,485.33 L893.78,490.68 L894.34,495.81 L894.90,500.74 L895.46,505.47 L896.02,510.01 L896.58,514.37 L897.13,518.56 L897.69,522.59 L898.25,526.46 L898.81,530.18 L899.37,533.76 L899.92,537.20 L900.48,540.51 L901.04,543.69 L901.60,546.76 L902.16,549.70 L902.72,552.54 L903.27,555.28 L903.83,557.91 L904.39,560.44 L904.95,562.89 L905.51,565.24 L906.07,567.51 L906.62,569.70 L907.18,571.81 L907.74,573.85 L908.30,575.82 L908.86,577.71 L909.42,579.54 L909.98,581.31 L910.53,583.02 L911.09,584.67 L911.65,586.26 L912.21,587.80 L912.77,589.29 L913.33,590.73 L913.88,592.12 L914.44,593.47 L915.00,594.77 L915.56,596.03 L916.12,597.26 L916.67,598.44 L917.23,599.58 L917.79,600.69 L918.35,601.77 L918.91,602.81 L919.47,603.82 L920.02,604.80 L920.58,605.75 L921.14,606.68 L921.70,607.57 L922.26,608.44 L922.82,609.28 L923.38,610.10 L923.93,610.90 L924.49,611.67 L925.05,612.42 L925.61,613.15 L926.17,613.86 L926.73,614.55 L927.28,615.22 L927.84,615.87 L928.40,616.50 L928.96,617.12 L929.52,617.72 L930.08,618.31 L930.63,618.88 L931.19,619.43 L931.75,619.97 L932.31,620.50 L932.87,621.01 L933.42,621.51 L933.98,622.00 L934.54,622.47 L935.10,622.93 L935.66,623.38 L936.22,623.83 L936.77,624.25 L937.33,624.67 L937.89,625.08 L939.01,625.87 L940.12,626.62 L941.24,627.34 L942.36,628.02 L943.48,628.68 L944.59,629.30 L945.71,629.90 L946.83,630.47 L947.94,631.01 L949.06,631.54 L950.17,632.03 L951.29,632.51 L952.41,632.97 L953.52,633.41 L954.64,633.83 L955.76,634.24 L957.43,634.81 L959.11,635.35 L960.78,635.86 L962.46,636.34 L964.13,636.79 L965.81,637.22 L967.48,637.62 L969.72,638.12 L971.95,638.58 L974.18,639.01 L976.98,639.50 L979.77,639.94 L982.56,640.35 L985.91,640.79 L989.82,641.24 L994.28,641.70 L999.31,642.13 L1004.89,642.54 L1012.15,642.97 L1021.08,643.37 L1032.25,643.74 L1043.42,643.99 L1054.58,644.17 L1065.75,644.29 L1076.92,644.37 L1088.08,644.43 L1099.25,644.48 L1104.83,644.49 L1105.39,621.39 L1105.95,599.17 L1106.51,577.80 L1107.07,557.25 L1107.62,537.48 L1108.18,518.48 L1108.74,500.20 L1109.30,482.62 L1109.86,465.72 L1110.42,449.46 L1110.97,433.83 L1111.53,418.79 L1112.09,404.33 L1112.65,390.43 L1113.21,377.05 L1113.77,364.19 L1114.33,351.83 L1114.88,339.93 L1115.44,328.49 L1116.00,317.49 L1116.56,306.92 L1117.12,296.74 L1117.67,286.96 L1118.23,277.55 L1118.79,268.50 L1119.35,259.80 L1119.91,251.43 L1120.47,243.38 L1121.03,235.64 L1121.58,228.20 L1122.14,221.04 L1122.70,214.16 L1123.26,207.54 L1123.82,201.17 L1124.38,195.05 L1124.93,189.16 L1125.49,183.50 L1126.05,178.06 L1126.61,172.82 L1127.17,167.78 L1127.72,162.94 L1128.28,158.28 L1128.84,153.80 L1129.40,149.50 L1129.96,145.35 L1130.52,141.37 L1131.08,137.54 L1131.63,133.85 L1132.19,130.31 L1132.75,126.90 L1133.31,123.63 L1133.87,120.47 L1134.42,117.44 L1134.98,114.53 L1135.54,111.73 L1136.10,109.03 L1136.66,106.44 L1137.22,103.94 L1137.78,101.55 L1138.33,99.24 L1138.89,97.02 L1139.45,94.89 L1140.01,92.84 L1140.57,90.87 L1141.12,88.97 L1141.68,87.15 L1142.24,85.39 L1142.80,83.71 L1143.36,82.08 L1143.92,80.52 L1144.47,79.02 L1145.03,77.58 L1145.59,76.19 L1146.15,74.86 L1146.71,73.58 L1147.27,72.34 L1147.83,71.15 L1148.38,70.01 L1148.94,68.92 L1149.50,67.86 L1150.06,66.85 L1150.62,65.87 L1151.17,64.93 L1151.73,64.03 L1152.29,63.16 L1152.85,62.32 L1153.41,61.52 L1153.97,60.75 L1154.53,60.01 L1155.08,59.29 L1155.64,58.60 L1156.20,57.94 L1156.76,57.31 L1157.32,56.70 L1157.88,56.11 L1158.43,55.54 L1158.99,55.00 L1159.55,54.48 L1160.11,53.98 L1160.67,53.49 L1161.22,53.03 L1161.78,52.58 L1162.34,52.15 L1162.90,51.74 L1164.02,50.96 L1165.13,50.24 L1166.25,49.57 L1167.37,48.95 L1168.48,48.38 L1169.60,47.85 L1170.72,47.37 L1171.83,46.92 L1172.95,46.50 L1174.62,45.93 L1176.30,45.42 L1177.97,44.97 L1180.21,44.45 L1182.44,44.00 L1185.23,43.54 L1188.58,43.08 L1192.49,42.67 L1198.08,42.25 L1207.01,41.83 L1218.17,41.58 L1229.34,41.46 L1240.51,41.41 L1251.67,41.38 L1262.84,41.37 L1274.01,41.36 L1285.17,41.36 L1296.34,41.36 L1307.51,41.36 L1318.67,41.36 L1328.17,41.36 L1328.72,58.14 L1329.28,74.22 L1329.84,89.61 L1330.40,104.35 L1330.96,118.47 L1331.52,132.00 L1332.08,144.97 L1332.63,157.39 L1333.19,169.29 L1333.75,180.70 L1334.31,191.63 L1334.87,202.11 L1335.42,212.16 L1335.98,221.79 L1336.54,231.03 L1337.10,239.89 L1337.66,248.38 L1338.22,256.53 L1338.78,264.35 L1339.33,271.85 L1339.89,279.05 L1340.45,285.96 L1341.01,292.58 L1341.57,298.95 L1342.12,305.06 L1342.68,310.92 L1343.24,316.56 L1343.80,321.97 L1344.36,327.16 L1344.92,332.15 L1345.47,336.95 L1346.03,341.56 L1346.59,345.99 L1347.15,350.25 L1347.71,354.34 L1348.27,358.27 L1348.83,362.06 L1349.38,365.70 L1349.94,369.20 L1350.50,372.57 L1351.06,375.81 L1351.62,378.93 L1352.17,381.93 L1352.73,384.82 L1353.29,387.61 L1353.85,390.29 L1354.41,392.87 L1354.97,395.36 L1355.53,397.75 L1356.08,400.06 L1356.64,402.29 L1357.20,404.43 L1357.76,406.50 L1358.32,408.49 L1358.88,410.42 L1359.43,412.27 L1359.99,414.06 L1360.55,415.79 L1361.11,417.46 L1361.67,419.07 L1362.22,420.62 L1362.78,422.12 L1363.34,423.57 L1363.90,424.97 L1364.46,426.32 L1365.02,427.63 L1365.58,428.89 L1366.13,430.12 L1366.69,431.30 L1367.25,432.44 L1367.81,433.54 L1368.37,434.61 L1368.92,435.64 L1369.48,436.65 L1370.04,437.61 L1370.60,438.55 L1371.16,439.46 L1371.72,440.34 L1372.28,441.19 L1372.83,442.01 L1373.39,442.81 L1373.95,443.59 L1374.51,444.34 L1375.07,445.07 L1375.62,445.77 L1376.18,446.46 L1376.74,447.12 L1377.30,447.76 L1377.86,448.39 L1378.42,448.99 L1378.97,449.58 L1379.53,450.15 L1380.09,450.71 L1380.65,451.25 L1381.21,451.77 L1381.77,452.28 L1382.33,452.77 L1382.88,453.25 L1383.44,453.72 L1384.00,454.17 L1384.56,454.61 L1385.12,455.04 L1385.67,455.46 L1386.23,455.86 L1387.35,456.64 L1388.47,457.37 L1389.58,458.07 L1390.70,458.73 L1391.82,459.36 L1392.93,459.95 L1394.05,460.52 L1395.17,461.05 L1396.28,461.56 L1397.40,462.04 L1398.52,462.50 L1399.63,462.94 L1400.75,463.36 L1402.42,463.95 L1404.10,464.49 L1405.78,465.00 L1407.45,465.47 L1409.12,465.91 L1410.80,466.33 L1413.03,466.83 L1415.27,467.29 L1417.50,467.72 L1420.29,468.19 L1423.08,468.62 L1426.43,469.07 L1430.34,469.54 L1434.81,469.98 L1439.83,470.41 L1445.97,470.82 L1453.79,471.23 L1464.96,471.65 L1476.12,471.92 L1487.29,472.11 L1498.46,472.23 L1509.62,472.31 L1520.79,472.36 L1531.96,472.40 L1543.12,472.42 L1544.80,472.43"/>
<path stroke="#EDB120" transform="translate(0.7,0)" d="M211.50,901.00 L212.06,877.61 L212.62,855.04 L213.18,833.28 L213.73,812.28 L214.29,792.03 L214.85,772.49 L215.41,753.64 L215.97,735.46 L216.53,717.91 L217.08,700.99 L217.64,684.65 L218.20,668.89 L218.76,653.68 L219.32,639.00 L219.88,624.84 L220.43,611.16 L220.99,597.97 L221.55,585.23 L222.11,572.94 L222.67,561.07 L223.22,549.61 L223.78,538.55 L224.34,527.87 L224.90,517.56 L225.46,507.61 L226.02,498.00 L226.57,488.72 L227.13,479.75 L227.69,471.10 L228.25,462.74 L228.81,454.66 L229.37,446.86 L229.93,439.33 L230.48,432.05 L231.04,425.02 L231.60,418.23 L232.16,411.67 L232.72,405.33 L233.28,399.20 L233.83,393.28 L234.39,387.56 L234.95,382.03 L235.51,376.69 L236.07,371.53 L236.62,366.54 L237.18,361.71 L237.74,357.05 L238.30,352.54 L238.86,348.19 L239.42,343.97 L239.97,339.90 L240.53,335.96 L241.09,332.15 L241.65,328.47 L242.21,324.91 L242.77,321.46 L243.32,318.13 L243.88,314.91 L244.44,311.79 L245.00,308.77 L245.56,305.86 L246.12,303.04 L246.68,300.31 L247.23,297.66 L247.79,295.11 L248.35,292.63 L248.91,290.24 L249.47,287.92 L250.03,285.68 L250.58,283.51 L251.14,281.41 L251.70,279.38 L252.26,277.41 L252.82,275.51 L253.38,273.66 L253.93,271.87 L254.49,270.14 L255.05,268.47 L255.61,266.85 L256.17,265.28 L256.73,263.76 L257.28,262.28 L257.84,260.86 L258.40,259.48 L258.96,258.14 L259.52,256.84 L260.07,255.58 L260.63,254.37 L261.19,253.19 L261.75,252.04 L262.31,250.94 L262.87,249.86 L263.43,248.82 L263.98,247.81 L264.54,246.84 L265.10,245.89 L265.66,244.97 L266.22,244.08 L266.77,243.22 L267.33,242.38 L267.89,241.57 L268.45,240.79 L269.01,240.02 L269.57,239.29 L270.12,238.57 L270.68,237.87 L271.24,237.20 L271.80,236.54 L272.36,235.91 L272.92,235.30 L273.48,234.70 L274.03,234.12 L274.59,233.56 L275.15,233.01 L275.71,232.48 L276.27,231.97 L276.82,231.47 L277.38,230.99 L277.94,230.52 L278.50,230.07 L279.06,229.62 L279.62,229.19 L280.18,228.78 L280.73,228.37 L281.85,227.60 L282.97,226.87 L284.08,226.19 L285.20,225.54 L286.32,224.93 L287.43,224.35 L288.55,223.81 L289.67,223.30 L290.78,222.81 L291.90,222.36 L293.02,221.93 L294.13,221.52 L295.81,220.95 L297.48,220.43 L299.16,219.95 L300.83,219.51 L302.51,219.10 L304.74,218.61 L306.98,218.18 L309.77,217.69 L312.56,217.27 L315.91,216.84 L319.82,216.41 L324.84,215.97 L330.98,215.56 L339.92,215.14 L351.08,214.81 L362.25,214.62 L373.42,214.50 L384.58,214.43 L395.75,214.39 L406.92,214.36 L418.08,214.34 L429.25,214.34 L434.83,214.33 L435.39,224.33 L435.95,233.89 L436.51,243.02 L437.07,251.75 L437.62,260.10 L438.18,268.08 L438.74,275.72 L439.30,283.02 L439.86,290.01 L440.42,296.70 L440.98,303.11 L441.53,309.24 L442.09,315.11 L442.65,320.74 L443.21,326.13 L443.77,331.30 L444.32,336.25 L444.88,341.00 L445.44,345.56 L446.00,349.93 L446.56,354.12 L447.12,358.15 L447.68,362.01 L448.23,365.72 L448.79,369.28 L449.35,372.70 L449.91,375.99 L450.47,379.15 L451.02,382.19 L451.58,385.11 L452.14,387.93 L452.70,390.63 L453.26,393.23 L453.82,395.74 L454.38,398.15 L454.93,400.47 L455.49,402.71 L456.05,404.86 L456.61,406.94 L457.17,408.94 L457.73,410.87 L458.28,412.73 L458.84,414.52 L459.40,416.26 L459.96,417.93 L460.52,419.54 L461.07,421.10 L461.63,422.60 L462.19,424.05 L462.75,425.46 L463.31,426.81 L463.87,428.12 L464.43,429.39 L464.98,430.62 L465.54,431.80 L466.10,432.95 L466.66,434.06 L467.22,435.13 L467.77,436.17 L468.33,437.17 L468.89,438.15 L469.45,439.09 L470.01,440.00 L470.57,440.89 L471.12,441.75 L471.68,442.58 L472.24,443.38 L472.80,444.16 L473.36,444.92 L473.92,445.66 L474.48,446.37 L475.03,447.06 L475.59,447.73 L476.15,448.38 L476.71,449.01 L477.27,449.63 L477.82,450.22 L478.38,450.80 L478.94,451.36 L479.50,451.91 L480.06,452.44 L480.62,452.95 L481.18,453.45 L481.73,453.94 L482.29,454.41 L482.85,454.87 L483.41,455.32 L483.97,455.76 L484.52,456.18 L485.08,456.59 L486.20,457.38 L487.32,458.12 L488.43,458.83 L489.55,459.50 L490.67,460.14 L491.78,460.74 L492.90,461.31 L494.02,461.85 L495.13,462.36 L496.25,462.85 L497.37,463.31 L498.48,463.75 L499.60,464.17 L501.27,464.76 L502.95,465.30 L504.62,465.80 L506.30,466.27 L507.98,466.71 L509.65,467.11 L511.88,467.60 L514.12,468.05 L516.35,468.45 L519.14,468.91 L521.93,469.31 L525.28,469.73 L529.19,470.15 L533.66,470.55 L539.24,470.96 L546.50,471.36 L557.11,471.76 L568.27,472.03 L579.44,472.20 L590.61,472.30 L601.77,472.36 L612.94,472.40 L624.11,472.43 L635.27,472.45 L646.44,472.45 L657.61,472.46 L658.17,472.46 L658.73,466.55 L659.28,460.84 L659.84,455.32 L660.40,450.00 L660.96,444.86 L661.52,439.89 L662.08,435.10 L662.63,430.47 L663.19,426.00 L663.75,421.68 L664.31,417.51 L664.87,413.49 L665.42,409.60 L665.98,405.85 L666.54,402.23 L667.10,398.73 L667.66,395.35 L668.22,392.08 L668.77,388.93 L669.33,385.89 L669.89,382.95 L670.45,380.11 L671.01,377.37 L671.57,374.73 L672.12,372.17 L672.68,369.70 L673.24,367.32 L673.80,365.02 L674.36,362.80 L674.92,360.66 L675.48,358.58 L676.03,356.58 L676.59,354.65 L677.15,352.79 L677.71,350.99 L678.27,349.25 L678.83,347.57 L679.38,345.95 L679.94,344.38 L680.50,342.87 L681.06,341.41 L681.62,340.00 L682.17,338.64 L682.73,337.32 L683.29,336.05 L683.85,334.83 L684.41,333.64 L684.97,332.50 L685.52,331.39 L686.08,330.33 L686.64,329.30 L687.20,328.30 L687.76,327.34 L688.32,326.42 L688.88,325.52 L689.43,324.66 L689.99,323.82 L690.55,323.02 L691.11,322.24 L691.67,321.49 L692.23,320.76 L692.78,320.06 L693.34,319.39 L693.90,318.73 L694.46,318.10 L695.02,317.49 L695.58,316.90 L696.13,316.34 L696.69,315.79 L697.25,315.26 L697.81,314.75 L698.37,314.25 L698.92,313.78 L699.48,313.31 L700.04,312.87 L700.60,312.44 L701.16,312.03 L701.72,311.63 L702.83,310.87 L703.95,310.16 L705.07,309.50 L706.18,308.88 L707.30,308.30 L708.42,307.77 L709.53,307.27 L710.65,306.80 L711.77,306.37 L712.88,305.96 L714.56,305.41 L716.23,304.91 L717.91,304.45 L719.58,304.05 L721.82,303.57 L724.05,303.15 L726.84,302.70 L730.19,302.26 L734.10,301.85 L739.68,301.42 L747.50,301.01 L758.67,300.69 L769.83,300.53 L781.00,300.45 L792.17,300.41 L803.33,300.39 L814.50,300.38 L825.67,300.38 L836.83,300.37 L848.00,300.37 L859.17,300.37 L870.33,300.37 L881.50,300.37 L882.06,313.51 L882.62,326.09 L883.17,338.12 L883.73,349.63 L884.29,360.65 L884.85,371.20 L885.41,381.30 L885.97,390.96 L886.52,400.22 L887.08,409.09 L887.64,417.58 L888.20,425.72 L888.76,433.51 L889.32,440.98 L889.88,448.15 L890.43,455.01 L890.99,461.59 L891.55,467.90 L892.11,473.96 L892.67,479.76 L893.23,485.33 L893.78,490.68 L894.34,495.81 L894.90,500.74 L895.46,505.47 L896.02,510.01 L896.58,514.37 L897.13,518.56 L897.69,522.59 L898.25,526.46 L898.81,530.18 L899.37,533.76 L899.92,537.20 L900.48,540.51 L901.04,543.69 L901.60,546.76 L902.16,549.70 L902.72,552.54 L903.27,555.28 L903.83,557.91 L904.39,560.44 L904.95,562.89 L905.51,565.24 L906.07,567.51 L906.62,569.70 L907.18,571.81 L907.74,573.85 L908.30,575.82 L908.86,577.71 L909.42,579.54 L909.98,581.31 L910.53,583.02 L911.09,584.67 L911.65,586.26 L912.21,587.80 L912.77,589.29 L913.33,590.73 L913.88,592.12 L914.44,593.47 L915.00,594.77 L915.56,596.03 L916.12,597.26 L916.67,598.44 L917.23,599.58 L917.79,600.69 L918.35,601.77 L918.91,602.81 L919.47,603.82 L920.02,604.80 L920.58,605.75 L921.14,606.68 L921.70,607.57 L922.26,608.44 L922.82,609.28 L923.38,610.10 L923.93,610.90 L924.49,611.67 L925.05,612.42 L925.61,613.15 L926.17,613.86 L926.73,614.55 L927.28,615.22 L927.84,615.87 L928.40,616.50 L928.96,617.12 L929.52,617.72 L930.08,618.31 L930.63,618.88 L931.19,619.43 L931.75,619.97 L932.31,620.50 L932.87,621.01 L933.42,621.51 L933.98,622.00 L934.54,622.47 L935.10,622.93 L935.66,623.38 L936.22,623.83 L936.77,624.25 L937.33,624.67 L937.89,625.08 L939.01,625.87 L940.12,626.62 L941.24,627.34 L942.36,628.02 L943.48,628.68 L944.59,629.30 L945.71,629.90 L946.83,630.47 L947.94,631.01 L949.06,631.54 L950.17,632.03 L951.29,632.51 L952.41,632.97 L953.52,633.41 L954.64,633.83 L955.76,634.24 L957.43,634.81 L959.11,635.35 L960.78,635.86 L962.46,636.34 L964.13,636.79 L965.81,637.22 L967.48,637.62 L969.72,638.12 L971.95,638.58 L974.18,639.01 L976.98,639.50 L979.77,639.94 L982.56,640.35 L985.91,640.79 L989.82,641.24 L994.28,641.70 L999.31,642.13 L1004.89,642.54 L1012.15,642.97 L1021.08,643.37 L1032.25,643.74 L1043.42,643.99 L1054.58,644.17 L1065.75,644.29 L1076.92,644.37 L1088.08,644.43 L1099.25,644.48 L1104.83,644.49 L1105.39,621.39 L1105.95,599.17 L1106.51,577.80 L1107.07,557.25 L1107.62,537.48 L1108.18,518.48 L1108.74,500.20 L1109.30,482.62 L1109.86,465.72 L1110.42,449.46 L1110.97,433.83 L1111.53,418.79 L1112.09,404.33 L1112.65,390.43 L1113.21,377.05 L1113.77,364.19 L1114.33,351.83 L1114.88,339.93 L1115.44,328.49 L1116.00,317.49 L1116.56,306.92 L1117.12,296.74 L1117.67,286.96 L1118.23,277.55 L1118.79,268.50 L1119.35,259.80 L1119.91,251.43 L1120.47,243.38 L1121.03,235.64 L1121.58,228.20 L1122.14,221.04 L1122.70,214.16 L1123.26,207.54 L1123.82,201.17 L1124.38,195.05 L1124.93,189.16 L1125.49,183.50 L1126.05,178.06 L1126.61,172.82 L1127.17,167.78 L1127.72,162.94 L1128.28,158.28 L1128.84,153.80 L1129.40,149.50 L1129.96,145.35 L1130.52,141.37 L1131.08,137.54 L1131.63,133.85 L1132.19,130.31 L1132.75,126.90 L1133.31,123.63 L1133.87,120.47 L1134.42,117.44 L1134.98,114.53 L1135.54,111.73 L1136.10,109.03 L1136.66,106.44 L1137.22,103.94 L1137.78,101.55 L1138.33,99.24 L1138.89,97.02 L1139.45,94.89 L1140.01,92.84 L1140.57,90.87 L1141.12,88.97 L1141.68,87.15 L1142.24,85.39 L1142.80,83.71 L1143.36,82.08 L1143.92,80.52 L1144.47,79.02 L1145.03,77.58 L1145.59,76.19 L1146.15,74.86 L1146.71,73.58 L1147.27,72.34 L1147.83,71.15 L1148.38,70.01 L1148.94,68.92 L1149.50,67.86 L1150.06,66.85 L1150.62,65.87 L1151.17,64.93 L1151.73,64.03 L1152.29,63.16 L1152.85,62.32 L1153.41,61.52 L1153.97,60.75 L1154.53,60.01 L1155.08,59.29 L1155.64,58.60 L1156.20,57.94 L1156.76,57.31 L1157.32,56.70 L1157.88,56.11 L1158.43,55.54 L1158.99,55.00 L1159.55,54.48 L1160.11,53.98 L1160.67,53.49 L1161.22,53.03 L1161.78,52.58 L1162.34,52.15 L1162.90,51.74 L1164.02,50.96 L1165.13,50.24 L1166.25,49.57 L1167.37,48.95 L1168.48,48.38 L1169.60,47.85 L1170.72,47.37 L1171.83,46.92 L1172.95,46.50 L1174.62,45.93 L1176.30,45.42 L1177.97,44.97 L1180.21,44.45 L1182.44,44.00 L1185.23,43.54 L1188.58,43.08 L1192.49,42.67 L1198.08,42.25 L1207.01,41.83 L1218.17,41.58 L1229.34,41.46 L1240.51,41.41 L1251.67,41.38 L1262.84,41.37 L1274.01,41.36 L1285.17,41.36 L1296.34,41.36 L1307.51,41.36 L1318.67,41.36 L1328.17,41.36 L1328.72,58.14 L1329.28,74.22 L1329.84,89.61 L1330.40,104.35 L1330.96,118.47 L1331.52,132.00 L1332.08,144.97 L1332.63,157.39 L1333.19,169.29 L1333.75,180.70 L1334.31,191.63 L1334.87,202.11 L1335.42,212.16 L1335.98,221.79 L1336.54,231.03 L1337.10,239.89 L1337.66,248.38 L1338.22,256.53 L1338.78,264.35 L1339.33,271.85 L1339.89,279.05 L1340.45,285.96 L1341.01,292.58 L1341.57,298.95 L1342.12,305.06 L1342.68,310.92 L1343.24,316.56 L1343.80,321.97 L1344.36,327.16 L1344.92,332.15 L1345.47,336.95 L1346.03,341.56 L1346.59,345.99 L1347.15,350.25 L1347.71,354.34 L1348.27,358.27 L1348.83,362.06 L1349.38,365.70 L1349.94,369.20 L1350.50,372.57 L1351.06,375.81 L1351.62,378.93 L1352.17,381.93 L1352.73,384.82 L1353.29,387.61 L1353.85,390.29 L1354.41,392.87 L1354.97,395.36 L1355.53,397.75 L1356.08,400.06 L1356.64,402.29 L1357.20,404.43 L1357.76,406.50 L1358.32,408.49 L1358.88,410.42 L1359.43,412.27 L1359.99,414.06 L1360.55,415.79 L1361.11,417.46 L1361.67,419.07 L1362.22,420.62 L1362.78,422.12 L1363.34,423.57 L1363.90,424.97 L1364.46,426.32 L1365.02,427.63 L1365.58,428.89 L1366.13,430.12 L1366.69,431.30 L1367.25,432.44 L1367.81,433.54 L1368.37,434.61 L1368.92,435.64 L1369.48,436.65 L1370.04,437.61 L1370.60,438.55 L1371.16,439.46 L1371.72,440.34 L1372.28,441.19 L1372.83,442.01 L1373.39,442.81 L1373.95,443.59 L1374.51,444.34 L1375.07,445.07 L1375.62,445.77 L1376.18,446.46 L1376.74,447.12 L1377.30,447.76 L1377.86,448.39 L1378.42,448.99 L1378.97,449.58 L1379.53,450.15 L1380.09,450.71 L1380.65,451.25 L1381.21,451.77 L1381.77,452.28 L1382.33,452.77 L1382.88,453.25 L1383.44,453.72 L1384.00,454.17 L1384.56,454.61 L1385.12,455.04 L1385.67,455.46 L1386.23,455.86 L1387.35,456.64 L1388.47,457.37 L1389.58,458.07 L1390.70,458.73 L1391.82,459.36 L1392.93,459.95 L1394.05,460.52 L1395.17,461.05 L1396.28,461.56 L1397.40,462.04 L1398.52,462.50 L1399.63,462.94 L1400.75,463.36 L1402.42,463.95 L1404.10,464.49 L1405.78,465.00 L1407.45,465.47 L1409.12,465.91 L1410.80,466.33 L1413.03,466.83 L1415.27,467.29 L1417.50,467.72 L1420.29,468.19 L1423.08,468.62 L1426.43,469.07 L1430.34,469.54 L1434.81,469.98 L1439.83,470.41 L1445.97,470.82 L1453.79,471.23 L1464.96,471.65 L1476.12,471.92 L1487.29,472.11 L1498.46,472.23 L1509.62,472.31 L1520.79,472.36 L1531.96,472.40 L1543.12,472.42 L1544.80,472.43"/>
</g>
</g>
<g id="yticks" class="tk" text-anchor="end">
<text transform="translate(188,924.50) scale(0.965,1)">0</text>
<text transform="translate(188,752.40) scale(0.965,1)">0.2</text>
<text transform="translate(188,580.30) scale(0.965,1)">0.4</text>
<text transform="translate(188,408.20) scale(0.965,1)">0.6</text>
<text transform="translate(188,236.10) scale(0.965,1)">0.8</text>
<text transform="translate(188,64.00) scale(0.965,1)">1</text>
</g>
<g id="xticks" class="tk" text-anchor="middle">
<text transform="translate(211.50,983.7) scale(0.965,1)">0</text>
<text transform="translate(434.83,983.7) scale(0.965,1)">100</text>
<text transform="translate(658.17,983.7) scale(0.965,1)">200</text>
<text transform="translate(881.50,983.7) scale(0.965,1)">300</text>
<text transform="translate(1104.83,983.7) scale(0.965,1)">400</text>
<text transform="translate(1328.17,983.7) scale(0.965,1)">500</text>
<text transform="translate(1551.50,983.7) scale(0.965,1)">600</text>
</g>
<g id="ylabel"><text class="lb" transform="rotate(-90) translate(0,78.85) scale(1.0646,1)" x="-527.23 -487.73 -468.94 -430.71 -391.00 -357.68" y="0" font-size="76.18" fill="#000" stroke="#fff" stroke-width="1.0">Signal</text></g>
<g id="xlabel"><text class="lb" transform="translate(0,1072.09) scale(1.1274,1)" x="693.31" y="0" font-size="87.65" font-style="italic" fill="#000" stroke="#fff" stroke-width="1.9">t</text><text class="lb" transform="translate(0,1076.94) scale(0.5098,1)" x="1632.88" y="0" font-size="89.41" fill="#000">[</text><text class="lb" transform="translate(0,1072.81) scale(1.2000,1)" x="706.36 759.87 782.45" y="0" font-size="77.71" font-style="italic" fill="#000" stroke="#fff" stroke-width="1.3">min</text><text class="lb" transform="translate(0,1076.94) scale(0.4988,1)" x="1975.68" y="0" font-size="89.41" fill="#000">]</text></g>
<g id="legend">
<rect x="1130.5" y="616.5" width="380.5" height="247" fill="#fff" stroke="none"/>
<g shape-rendering="crispEdges" stroke-width="3">
<line x1="1142" x2="1267" y1="661.5" y2="661.5" stroke="#0072BD"/>
<line x1="1142" x2="1267" y1="740.5" y2="740.5" stroke="#D95319"/>
<line x1="1142" x2="1267" y1="819" y2="819" stroke="#EDB120" stroke-width="4"/>
</g>
<g id="leg1"><text class="lb" transform="translate(0,685.65) scale(1.2000,1)" x="1062.02" y="0" font-size="75.34" font-style="italic" fill="#000" stroke="#fff" stroke-width="1.3">r</text><text class="lb" transform="translate(0,695.61) scale(1.2000,1)" x="1092.70 1116.22 1143.43" y="0" font-size="53.22" font-style="italic" fill="#000" stroke="#fff" stroke-width="0.5">ref</text><text class="lb" transform="translate(0,685.89) scale(0.8819,1)" x="1598.39" y="0" font-size="84.59" fill="#000" stroke="#fff" stroke-width="1.6">(</text><text class="lb" transform="translate(0,685.10) scale(1.1477,1)" x="1247.11" y="0" font-size="87.30" font-style="italic" fill="#000" stroke="#fff" stroke-width="1.9">t</text><text class="lb" transform="translate(0,685.89) scale(0.8750,1)" x="1671.56" y="0" font-size="84.59" fill="#000" stroke="#fff" stroke-width="1.6">)</text></g>
<g id="leg2"><text class="lb" transform="translate(0,763.46) scale(0.9090,1)" x="1412.27" y="0" font-size="74.76" font-style="italic" fill="#000" stroke="#fff" stroke-width="1.3">y</text><text class="lb" transform="translate(0,774.61) scale(1.2000,1)" x="1096.03 1119.59 1146.80" y="0" font-size="53.22" font-style="italic" fill="#000" stroke="#fff" stroke-width="0.5">ref</text><text class="lb" transform="translate(0,764.89) scale(0.8773,1)" x="1610.33" y="0" font-size="84.59" fill="#000" stroke="#fff" stroke-width="1.6">(</text><text class="lb" transform="translate(0,764.10) scale(1.1365,1)" x="1262.34" y="0" font-size="87.30" font-style="italic" fill="#000" stroke="#fff" stroke-width="1.9">t</text><text class="lb" transform="translate(0,764.89) scale(0.8727,1)" x="1679.42" y="0" font-size="84.59" fill="#000" stroke="#fff" stroke-width="1.6">)</text></g>
<g id="leg3"><text class="lb" transform="translate(0,842.46) scale(0.9090,1)" x="1412.27" y="0" font-size="74.76" font-style="italic" fill="#000" stroke="#fff" stroke-width="1.3">y</text><text class="lb" transform="translate(0,853.90) scale(1.1941,1)" x="1099.15 1124.30 1154.35" y="0" font-size="57.04" font-style="italic" fill="#000" stroke="#fff" stroke-width="0.5">out</text><text class="lb" transform="translate(0,843.89) scale(0.8773,1)" x="1605.77" y="0" font-size="84.59" fill="#000" stroke="#fff" stroke-width="1.6">(</text><text class="lb" transform="translate(0,843.10) scale(1.1410,1)" x="1252.86" y="0" font-size="87.30" font-style="italic" fill="#000" stroke="#fff" stroke-width="1.9">t</text><text class="lb" transform="translate(0,843.89) scale(0.8727,1)" x="1673.69" y="0" font-size="84.59" fill="#000" stroke="#fff" stroke-width="1.6">)</text></g>
<rect x="1130.5" y="616.5" width="380.5" height="247" fill="none" stroke="#262626" stroke-width="5" shape-rendering="crispEdges"/>
</g>
</svg></body></html>
